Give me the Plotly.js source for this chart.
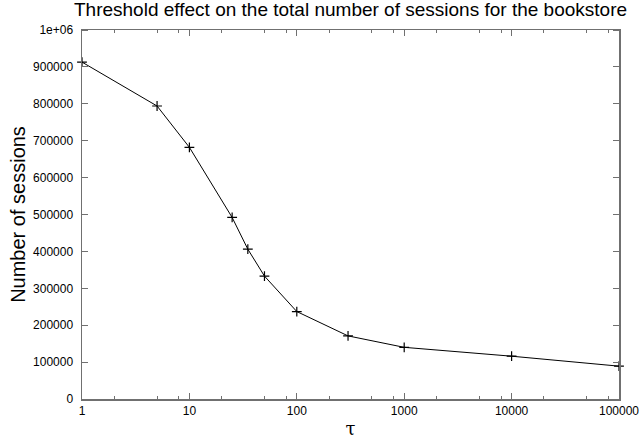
<!DOCTYPE html>
<html>
<head>
<meta charset="utf-8">
<script src="https://cdn.plot.ly/plotly-3.0.1.min.js"></script>
<style>html,body{margin:0;padding:0;background:#fff}#chart{width:641px;height:440px}</style>
</head>
<body>
<div id="chart"></div>
<script>
const thresholds = [1, 5, 10, 25, 35, 50, 100, 300, 1000, 10000, 100000];
const sessions = [913000, 794000, 682000, 492000, 406000, 333000, 237000, 171000, 140000, 116000, 89000];
const xTickVals = [1, 10, 100, 1000, 10000, 100000];
const xTickText = ['1', '10', '100', '1000', '10000', '100000'];
const xMinorVals = [2, 5, 8, 20, 50, 80, 200, 500, 800, 2000, 5000, 8000, 20000, 50000, 80000];
const yTickVals = [0, 100000, 200000, 300000, 400000, 500000, 600000, 700000, 800000, 900000, 1000000];
const yTickText = ['0', '100000', '200000', '300000', '400000', '500000', '600000', '700000', '800000', '900000', '1e+06'];

const axisColor = '#707070';
const trace = {
  x: thresholds, y: sessions, type: 'scatter', mode: 'lines+markers',
  line: {color: '#000', width: 1},
  marker: {symbol: 'cross-thin-open', size: 7, color: '#000', line: {color: '#000', width: 1.2}},
  showlegend: false, cliponaxis: false
};
const layout = {
  width: 641, height: 440,
  margin: {l: 82, r: 22, t: 30, b: 41, pad: 0},
  paper_bgcolor: '#fff', plot_bgcolor: '#fff',
  font: {family: 'Liberation Sans, Arial, sans-serif', color: '#000', size: 12},
  title: {text: 'Threshold effect on the total number of sessions for the bookstore',
    font: {size: 19, color: '#000'}, x: 0.5, xanchor: 'center', xref: 'paper', y: 0.995, yanchor: 'top'},
  xaxis: {
    type: 'log', range: [0, 5], tickmode: 'array', tickvals: xTickVals, ticktext: xTickText,
    ticks: 'inside', ticklen: 6, tickwidth: 1, tickcolor: axisColor,
    showline: true, linecolor: axisColor, linewidth: 1.5, mirror: 'ticks',
    showgrid: false, zeroline: false,
    tickfont: {size: 12, color: '#000'},
    minor: {tickmode: 'array', tickvals: xMinorVals, ticks: 'inside', ticklen: 3, tickcolor: axisColor, tickwidth: 1, showgrid: false},
    title: {text: 'τ', font: {size: 18, color: '#000', family: 'DejaVu Serif, serif'}, standoff: 5}
  },
  yaxis: {
    range: [0, 1000000], tickmode: 'array', tickvals: yTickVals, ticktext: yTickText,
    ticks: 'outside', ticklen: 5, tickwidth: 1, tickcolor: 'rgba(0,0,0,0)',
    showline: true, linecolor: axisColor, linewidth: 1.5, mirror: 'ticks',
    showgrid: false, zeroline: false,
    tickfont: {size: 12, color: '#000'},
    minor: {tickmode: 'array', tickvals: yTickVals, ticks: 'inside', ticklen: 6, tickcolor: axisColor, tickwidth: 1, showgrid: false},
    title: {text: 'Number of sessions', font: {size: 20, color: '#000'}, standoff: 2}
  }
};
Plotly.newPlot('chart', [trace], layout, {displayModeBar: false, staticPlot: true});
</script>
</body>
</html>
